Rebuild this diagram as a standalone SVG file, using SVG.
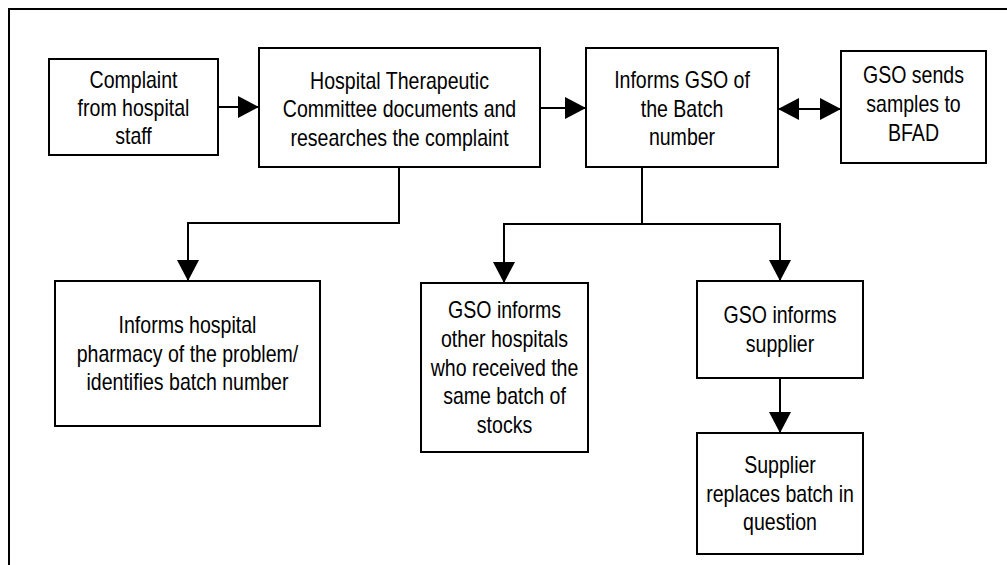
<svg xmlns="http://www.w3.org/2000/svg" width="1007" height="565" viewBox="0 0 1007 565">
<style>
.box{fill:#fff;stroke:#000;stroke-width:2}
.ln{fill:none;stroke:#000;stroke-width:2}
text{font-family:"Liberation Sans",Arial,sans-serif;font-size:23px;fill:#000;text-anchor:middle}
</style>
<defs>
<marker id="ah" markerUnits="userSpaceOnUse" markerWidth="21" markerHeight="22" refX="20" refY="11" orient="auto-start-reverse" viewBox="0 0 21 22">
<path d="M0,0 L21,11 L0,22 z" fill="#000"/>
</marker>
</defs>
<rect width="1007" height="565" fill="#fff"/>
<path class="ln" d="M9,565 V9 H1007"/>
<g id="connectors">
<path class="ln" d="M218,107 H258" marker-end="url(#ah)"/>
<path class="ln" d="M540,108 H585" marker-end="url(#ah)"/>
<path class="ln" d="M779,109 H840" marker-start="url(#ah)" marker-end="url(#ah)"/>
<path class="ln" d="M399,167 V223 H188 V280" marker-end="url(#ah)"/>
<path class="ln" d="M642,167 V224 H504 V282" marker-end="url(#ah)"/>
<path class="ln" d="M642,224 H780 V280" marker-end="url(#ah)"/>
<path class="ln" d="M780,378 V432" marker-end="url(#ah)"/>
</g>
<g id="n1">
<rect class="box" x="49" y="59" width="169" height="96"/>
<g transform="matrix(0.85 0 0 1 133.5 0)"><text x="0" y="88">Complaint</text><text x="0" y="116">from hospital</text><text x="0" y="144">staff</text></g>
</g>
<g id="n2">
<rect class="box" x="259" y="48" width="281" height="119"/>
<g transform="matrix(0.85 0 0 1 399.5 0)"><text x="0" y="89">Hospital Therapeutic</text><text x="0" y="117.5">Committee documents and</text><text x="0" y="146">researches the complaint</text></g>
</g>
<g id="n3">
<rect class="box" x="586" y="48" width="192" height="119"/>
<g transform="matrix(0.85 0 0 1 682 0)"><text x="0" y="88.5">Informs GSO of</text><text x="0" y="117">the Batch</text><text x="0" y="145">number</text></g>
</g>
<g id="n4">
<rect class="box" x="841" y="51" width="145" height="112"/>
<g transform="matrix(0.85 0 0 1 913.5 0)"><text x="0" y="83.5">GSO sends</text><text x="0" y="112">samples to</text><text x="0" y="141.5">BFAD</text></g>
</g>
<g id="n5">
<rect class="box" x="55" y="281" width="265" height="145"/>
<g transform="matrix(0.85 0 0 1 187.5 0)"><text x="0" y="333.5">Informs hospital</text><text x="0" y="362">pharmacy of the problem/</text><text x="0" y="390">identifies batch number</text></g>
</g>
<g id="n6">
<rect class="box" x="421" y="283" width="167" height="169"/>
<g transform="matrix(0.85 0 0 1 504.5 0)"><text x="0" y="318.5">GSO informs</text><text x="0" y="347">other hospitals</text><text x="0" y="376">who received the</text><text x="0" y="404.5">same batch of</text><text x="0" y="433">stocks</text></g>
</g>
<g id="n7">
<rect class="box" x="697" y="281" width="166" height="97"/>
<g transform="matrix(0.85 0 0 1 780 0)"><text x="0" y="323.5">GSO informs</text><text x="0" y="352">supplier</text></g>
</g>
<g id="n8">
<rect class="box" x="697" y="433" width="166" height="121"/>
<g transform="matrix(0.85 0 0 1 780 0)"><text x="0" y="473.5">Supplier</text><text x="0" y="502">replaces batch in</text><text x="0" y="530">question</text></g>
</g>
</svg>
